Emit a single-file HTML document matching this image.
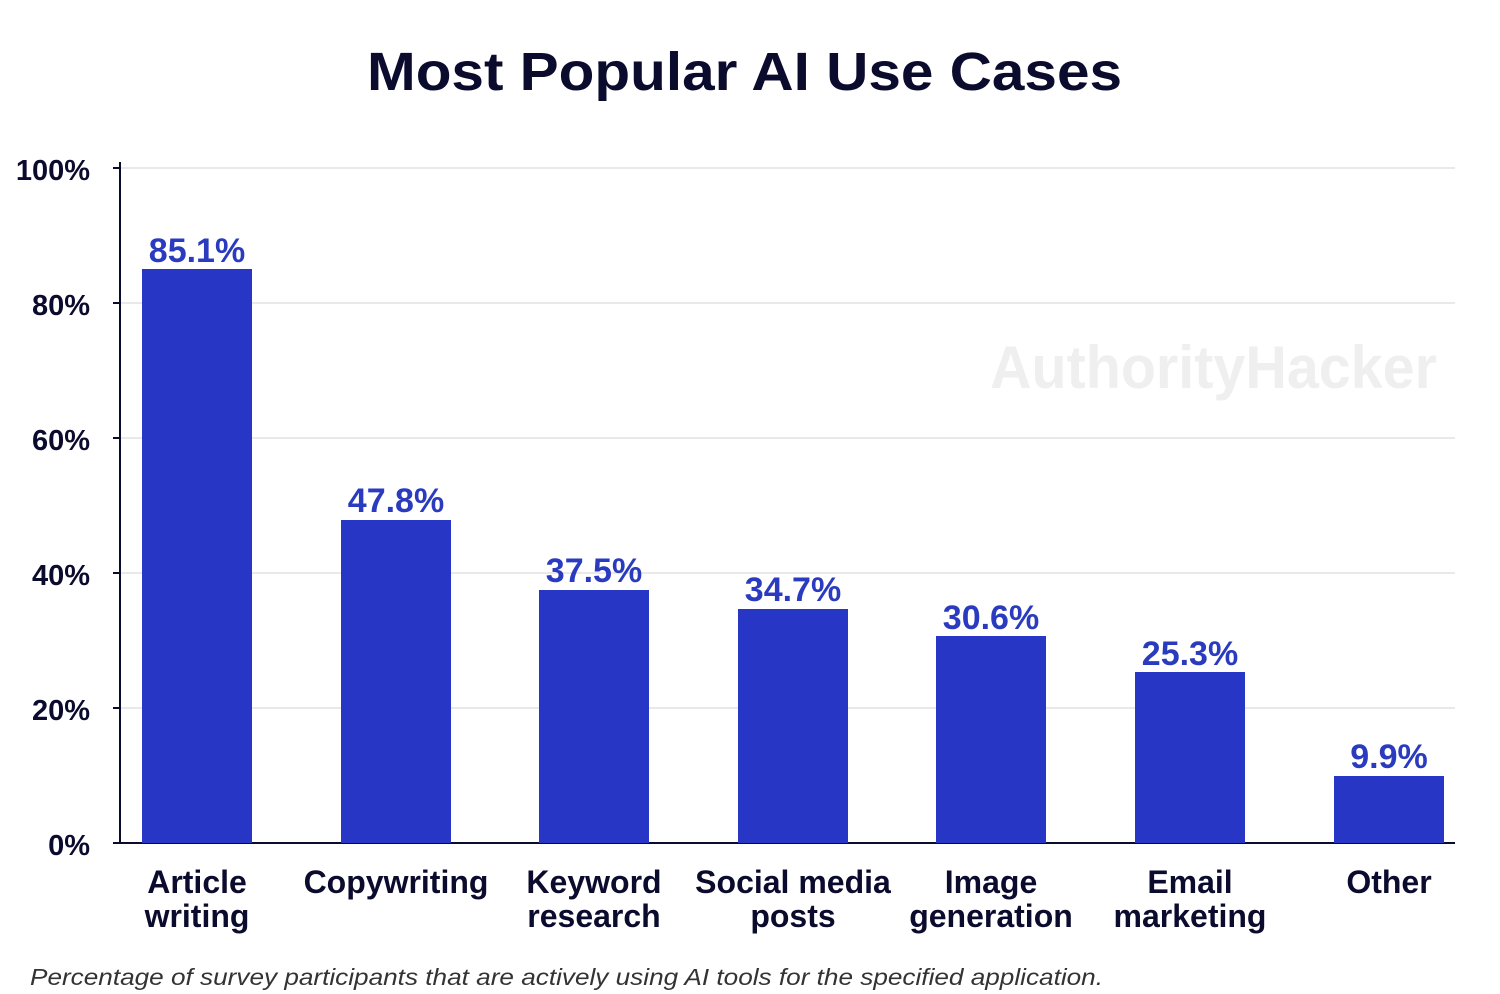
<!DOCTYPE html>
<html><head><meta charset="utf-8"><style>
body{margin:0;background:#fff;}
svg{display:block;font-family:"Liberation Sans",sans-serif;}
</style></head><body>
<svg width="1500" height="994" viewBox="0 0 1500 994">
<rect width="1500" height="994" fill="#fff"/>
<text x="367" y="90" font-size="54" font-weight="bold" fill="#0b0b2e" textLength="755" lengthAdjust="spacingAndGlyphs">Most Popular AI Use Cases</text>
<text x="990" y="388" font-size="60" font-weight="bold" fill="#efefef" textLength="447" lengthAdjust="spacingAndGlyphs">AuthorityHacker</text>
<g stroke="#dcdcdc" stroke-width="1.2">
<line x1="120" y1="168" x2="1455" y2="168"/>
<line x1="120" y1="303" x2="1455" y2="303"/>
<line x1="120" y1="438" x2="1455" y2="438"/>
<line x1="120" y1="573" x2="1455" y2="573"/>
<line x1="120" y1="708" x2="1455" y2="708"/>
</g>
<g stroke="#0b0b2e" stroke-width="2">
<line x1="120" y1="162" x2="120" y2="843"/>
<line x1="113" y1="843" x2="1455" y2="843"/>
<line x1="113" y1="168" x2="120" y2="168"/>
<line x1="113" y1="303" x2="120" y2="303"/>
<line x1="113" y1="438" x2="120" y2="438"/>
<line x1="113" y1="573" x2="120" y2="573"/>
<line x1="113" y1="708" x2="120" y2="708"/>
</g>
<g font-size="29" font-weight="bold" fill="#0b0b2e" text-anchor="end">
<text x="90" y="180">100%</text>
<text x="90" y="315">80%</text>
<text x="90" y="450">60%</text>
<text x="90" y="585">40%</text>
<text x="90" y="720">20%</text>
<text x="90" y="855">0%</text>
</g>
<g fill="#2736c4">
<rect x="142" y="269" width="110" height="574"/>
<rect x="341" y="520" width="110" height="323"/>
<rect x="539" y="590" width="110" height="253"/>
<rect x="738" y="609" width="110" height="234"/>
<rect x="936" y="636" width="110" height="207"/>
<rect x="1135" y="672" width="110" height="171"/>
<rect x="1334" y="776" width="110" height="67"/>
</g>
<g font-size="34" font-weight="bold" fill="#2a3bbf" text-anchor="middle">
<text x="197" y="262">85.1%</text>
<text x="396" y="512">47.8%</text>
<text x="594" y="582">37.5%</text>
<text x="793" y="601">34.7%</text>
<text x="991" y="629">30.6%</text>
<text x="1190" y="665">25.3%</text>
<text x="1389" y="768">9.9%</text>
</g>
<g font-size="32" font-weight="bold" fill="#0b0b2e" text-anchor="middle">
<text x="197" y="893">Article</text><text x="197" y="927">writing</text>
<text x="396" y="893">Copywriting</text>
<text x="594" y="893">Keyword</text><text x="594" y="927">research</text>
<text x="793" y="893">Social media</text><text x="793" y="927">posts</text>
<text x="991" y="893">Image</text><text x="991" y="927">generation</text>
<text x="1190" y="893">Email</text><text x="1190" y="927">marketing</text>
<text x="1389" y="893">Other</text>
</g>
<text x="30" y="985" font-size="23" font-style="italic" fill="#333" textLength="1073" lengthAdjust="spacingAndGlyphs">Percentage of survey participants that are actively using AI tools for the specified application.</text>
</svg>
</body></html>
